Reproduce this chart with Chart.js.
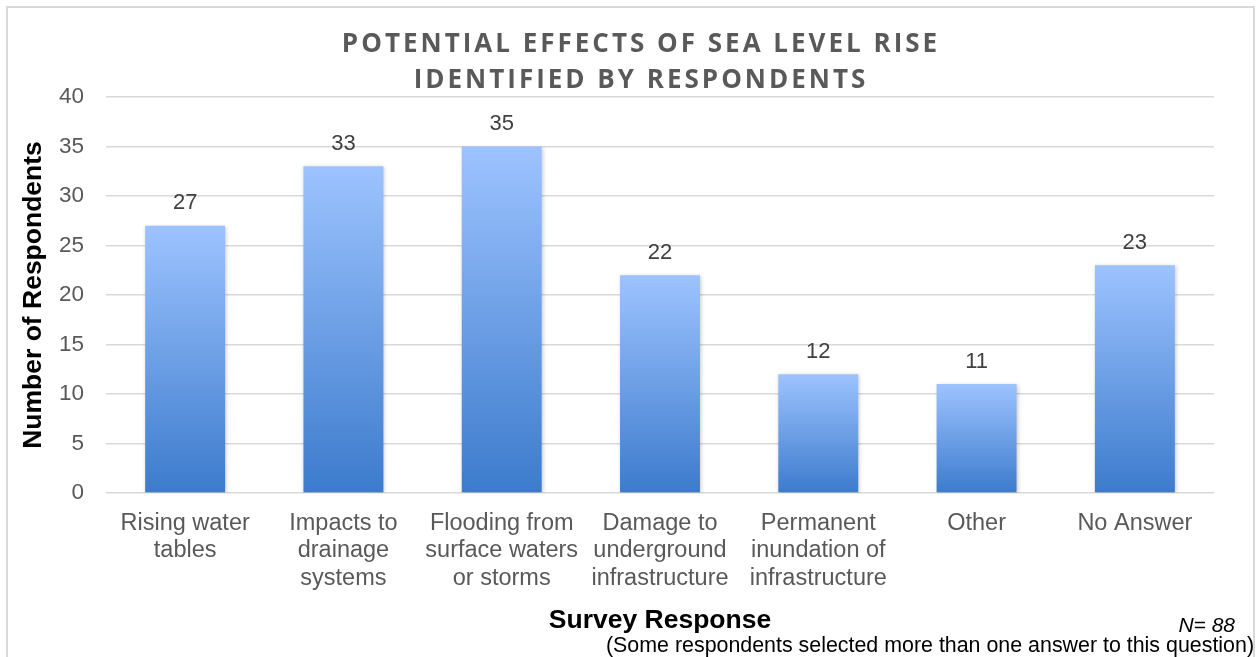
<!DOCTYPE html>
<html>
<head>
<meta charset="utf-8">
<script src="https://cdn.jsdelivr.net/npm/chart.js@4.4.1/dist/chart.umd.min.js"></script>
<style>
  html, body { margin: 0; padding: 0; background: #fff; }
  #wrap { width: 1256px; height: 657px; position: relative; }
</style>
</head>
<body>
<div id="wrap"><canvas id="chart" width="1256" height="657"></canvas></div>
<script>
// Survey chart: potential effects of sea level rise
const titleLines = ["POTENTIAL EFFECTS OF SEA LEVEL RISE", "IDENTIFIED BY RESPONDENTS"];
const categories = [
  ["Rising water", "tables"],
  ["Impacts to", "drainage", "systems"],
  ["Flooding from", "surface waters", "or storms"],
  ["Damage to", "underground", "infrastructure"],
  ["Permanent", "inundation of", "infrastructure"],
  ["Other"],
  ["No Answer"]
];
const respondents = [27, 33, 35, 22, 12, 11, 23];
const yMin = 0, yMax = 40, yStep = 5;
const xTitle = "Survey Response";
const yTitle = "Number of Respondents";
const sampleNote = "N= 88";
const footNote = "(Some respondents selected more than one answer to this question)";

const GRID = "#d9d9d9";
const GRAY_TEXT = "#595959";

function barGradient(ctx) {
  const chart = ctx.chart;
  if (!chart.chartArea || ctx.type !== "data") return "#6fa0e6";
  const y = chart.scales.y;
  const top = y.getPixelForValue(ctx.raw);
  const base = y.getPixelForValue(0);
  const g = chart.ctx.createLinearGradient(0, top, 0, base);
  g.addColorStop(0, "#9dc3ff");
  g.addColorStop(1, "#3c7bcc");
  return g;
}

const framePlugin = {
  id: "frame",
  beforeDraw(chart) {
    const c = chart.ctx;
    c.save();
    c.fillStyle = "#fff";
    c.fillRect(0, 0, chart.width, chart.height);
    c.strokeStyle = GRID;
    c.lineWidth = 2;
    c.strokeRect(7, 7, 1247, 700);
    c.restore();
  }
};

const headlinePlugin = {
  id: "headline",
  afterDraw(chart) {
    const c = chart.ctx;
    c.save();
    c.font = "bold 26px 'Open Sans'";
    c.letterSpacing = "3px";
    c.fillStyle = GRAY_TEXT;
    c.textAlign = "center";
    c.textBaseline = "alphabetic";
    // letterSpacing adds trailing space, shift half of it back
    c.fillText(titleLines[0], 641, 52);
    c.fillText(titleLines[1], 641, 88);
    c.restore();
  }
};

const shadowPlugin = {
  id: "barShadow",
  beforeDatasetsDraw(chart) {
    const c = chart.ctx;
    c.save();
    c.shadowColor = "rgba(0,0,0,0.22)";
    c.shadowBlur = 4;
    c.shadowOffsetX = 1;
    c.shadowOffsetY = 1;
  },
  afterDatasetsDraw(chart) {
    chart.ctx.restore();
  }
};

const valuePlugin = {
  id: "values",
  afterDatasetsDraw(chart) {
    const c = chart.ctx;
    const meta = chart.getDatasetMeta(0);
    c.save();
    c.shadowColor = "transparent";
    c.font = "22px Arial";
    c.fillStyle = "#404040";
    c.textAlign = "center";
    c.textBaseline = "alphabetic";
    meta.data.forEach((bar, i) => {
      c.fillText(String(respondents[i]), bar.x, bar.y - 16.5);
    });
    c.restore();
  }
};

const notesPlugin = {
  id: "notes",
  afterDraw(chart) {
    const c = chart.ctx;
    c.save();
    c.fillStyle = "#000";
    c.textAlign = "right";
    c.textBaseline = "alphabetic";
    c.font = "italic 21px Arial";
    c.fillText(sampleNote, 1235, 632);
    c.font = "21.4px Arial";
    c.fillText(footNote, 1254, 652);
    c.restore();
  }
};

new Chart(document.getElementById("chart"), {
  type: "bar",
  data: {
    labels: categories,
    datasets: [{
      data: respondents,
      backgroundColor: barGradient,
      borderWidth: 0,
      categoryPercentage: 1,
      barPercentage: 0.505
    }]
  },
  options: {
    responsive: false,
    animation: false,
    devicePixelRatio: 1,
    layout: { padding: { top: 97, right: 42, bottom: 16, left: 14 } },
    plugins: {
      legend: { display: false },
      tooltip: { enabled: false },
      title: { display: false }
    },
    scales: {
      x: {
        grid: { display: false, drawTicks: false },
        border: { display: false },
        ticks: {
          color: GRAY_TEXT,
          font: { family: "Arial", size: 23.5, lineHeight: 1.16 },
          padding: 17,
          maxRotation: 0,
          autoSkip: false
        },
        title: {
          display: true,
          text: xTitle,
          color: "#000",
          font: { family: "Arial", size: 26.5, weight: "bold", lineHeight: 1.2 },
          padding: { top: 4, bottom: 4 }
        },
        afterFit(scale) { scale.height = 148; }
      },
      y: {
        min: yMin,
        max: yMax,
        grid: { color: GRID, lineWidth: 1.5, drawTicks: false },
        border: { display: false },
        ticks: {
          stepSize: yStep,
          color: GRAY_TEXT,
          font: { family: "Arial", size: 22.5 },
          padding: 22
        },
        title: {
          display: true,
          text: yTitle,
          color: "#000",
          font: { family: "Arial", size: 26.5, weight: "bold", lineHeight: 1.2 },
          padding: { top: 4, bottom: 4 }
        },
        afterFit(scale) { scale.width = 92; }
      }
    }
  },
  plugins: [framePlugin, shadowPlugin, valuePlugin, headlinePlugin, notesPlugin]
});
</script>
</body>
</html>
